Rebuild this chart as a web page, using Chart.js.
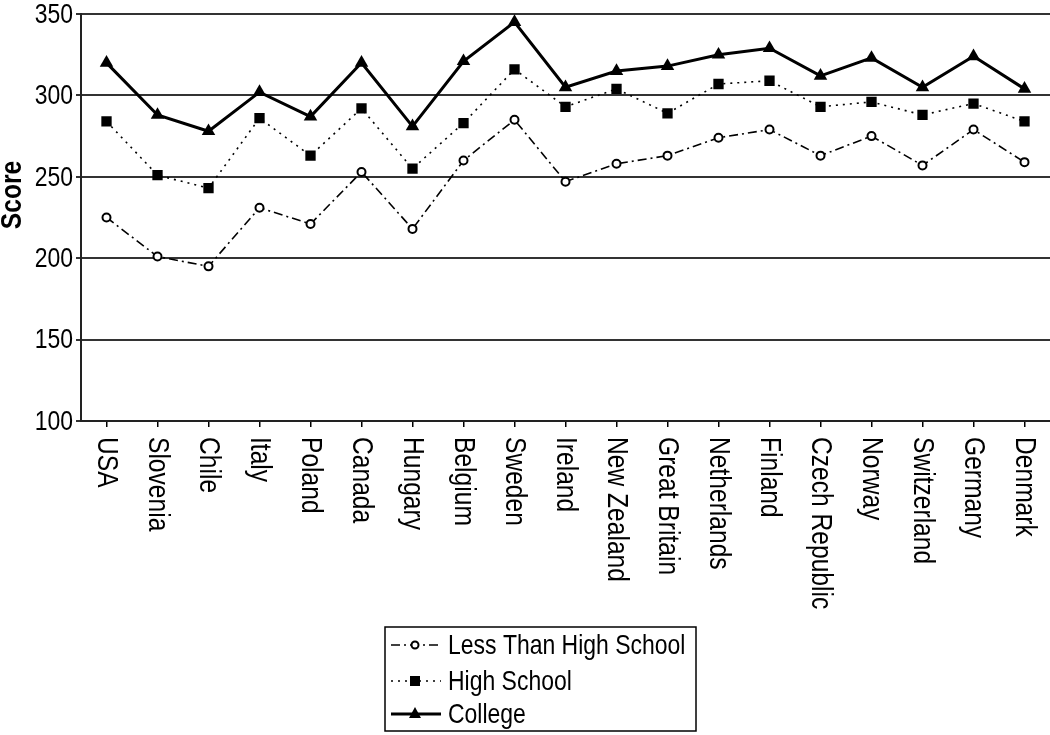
<!DOCTYPE html>
<html>
<head>
<meta charset="utf-8">
<script src="https://cdn.jsdelivr.net/npm/chart.js@4.4.0/dist/chart.umd.min.js"></script>
<style>
  html, body { margin: 0; padding: 0; overflow: hidden; background: #fff; }
  #wrap { width: 1050px; height: 735px; position: relative; }
  canvas { display: block; }
</style>
</head>
<body>
<div id="wrap"><canvas id="scoreChart"></canvas></div>
<script>
// countries along the x axis
var countries = ['USA', 'Slovenia', 'Chile', 'Italy', 'Poland', 'Canada', 'Hungary', 'Belgium', 'Sweden',
    'Ireland', 'New Zealand', 'Great Britain', 'Netherlands', 'Finland', 'Czech Republic', 'Norway',
    'Switzerland', 'Germany', 'Denmark'];

// scores
var lessThanHighSchool = [225, 201, 195, 231, 221, 253, 218, 260, 285, 247, 258, 263, 274, 279, 263, 275, 257, 279, 259];
var highSchool = [284, 251, 243, 286, 263, 292, 255, 283, 316, 293, 304, 289, 307, 309, 293, 296, 288, 295, 284];
var college = [320, 288, 278, 302, 287, 320, 281, 321, 345, 305, 315, 318, 325, 329, 312, 323, 305, 324, 304];

var yTicks = [100, 150, 200, 250, 300, 350];
var yTitle = 'Score';

var sans = '"Liberation Sans", Arial, sans-serif';
var squeeze = 0.82; // narrow look of the original font

// draw text squeezed along its own direction
function narrowText(ctx, text, x, y, angle, align) {
    ctx.save();
    ctx.translate(x, y);
    ctx.rotate(angle);
    ctx.scale(squeeze, 1);
    ctx.textAlign = align;
    ctx.fillText(text, 0, 0);
    ctx.restore();
}

var textPlugin = {
    id: 'axisText',
    afterDraw: function(chart) {
        var ctx = chart.ctx;
        var xs = chart.scales.x;
        var ys = chart.scales.y;
        ctx.save();
        ctx.fillStyle = '#000';
        ctx.textBaseline = 'middle';

        // rotated country names, reading top to bottom
        ctx.font = '30px ' + sans;
        countries.forEach(function(name, i) {
            narrowText(ctx, name, xs.getPixelForTick(i), xs.top + 16, Math.PI / 2, 'left');
        });

        // y tick labels
        ctx.font = '28px ' + sans;
        yTicks.forEach(function(v) {
            narrowText(ctx, String(v), ys.right - 8, ys.getPixelForValue(v) + 1, 0, 'right');
        });

        // y title
        ctx.font = 'bold 30px ' + sans;
        narrowText(ctx, yTitle, 13, 195, -Math.PI / 2, 'center');
        ctx.restore();
    }
};

// boxed legend, one row per series
var legendPlugin = {
    id: 'boxLegend',
    afterDraw: function(chart) {
        var ctx = chart.ctx;
        var left = 385, top = 627, w = 311, h = 104;
        ctx.save();
        ctx.strokeStyle = '#000';
        ctx.lineWidth = 1.5;
        ctx.strokeRect(left, top, w, h);
        ctx.font = '28px ' + sans;
        ctx.textBaseline = 'middle';
        var rows = [645, 681, 714];
        chart.data.datasets.forEach(function(ds, i) {
            var y = rows[i];
            ctx.save();
            ctx.strokeStyle = '#000';
            ctx.lineWidth = ds.borderWidth;
            ctx.setLineDash(ds.borderDash || []);
            ctx.beginPath();
            ctx.moveTo(391, y);
            ctx.lineTo(441, y);
            ctx.stroke();
            ctx.setLineDash([]);
            var cx = 415;
            if (ds.pointStyle === 'circle') {
                ctx.fillStyle = '#fff';
                ctx.lineWidth = 2;
                ctx.beginPath();
                ctx.arc(cx, y, 3.5, 0, Math.PI * 2);
                ctx.fill();
                ctx.stroke();
            } else if (ds.pointStyle === 'rect') {
                ctx.fillStyle = '#000';
                ctx.fillRect(cx - 5, y - 5, 10, 10);
            } else {
                ctx.fillStyle = '#000';
                ctx.beginPath();
                ctx.moveTo(cx, y - 7);
                ctx.lineTo(cx + 6, y + 4);
                ctx.lineTo(cx - 6, y + 4);
                ctx.closePath();
                ctx.fill();
            }
            ctx.restore();
            ctx.fillStyle = '#000';
            narrowText(ctx, ds.label, 448, y + 1, 0, 'left');
        });
        ctx.restore();
    }
};

var ctx = document.getElementById('scoreChart').getContext('2d');
var scoreChart = new Chart(ctx, {
    type: 'line',
    data: {
        labels: countries,
        datasets: [{
            label: 'Less Than High School',
            data: lessThanHighSchool,
            borderColor: '#000',
            borderWidth: 1.6,
            borderDash: [9, 4, 2, 4],
            pointStyle: 'circle',
            pointRadius: 4,
            pointBorderWidth: 2,
            pointBackgroundColor: '#fff',
            pointBorderColor: '#000'
        }, {
            label: 'High School',
            data: highSchool,
            borderColor: '#000',
            borderWidth: 1.6,
            borderDash: [2, 5],
            pointStyle: 'rect',
            pointRadius: 7.3,
            pointBorderWidth: 0,
            pointBackgroundColor: '#000',
            pointBorderColor: '#000'
        }, {
            label: 'College',
            data: college,
            borderColor: '#000',
            borderWidth: 3,
            pointStyle: 'triangle',
            pointRadius: 7.8,
            pointBorderWidth: 0,
            pointBackgroundColor: '#000',
            pointBorderColor: '#000'
        }]
    },
    options: {
        responsive: true,
        maintainAspectRatio: false,
        animation: false,
        layout: { padding: 0, autoPadding: false },
        elements: { line: { tension: 0 } },
        plugins: {
            legend: { display: false },
            tooltip: { enabled: false }
        },
        scales: {
            x: {
                offset: true,
                grid: { display: true, drawOnChartArea: false, offset: false, tickLength: 6, color: '#000', lineWidth: 1.5 },
                border: { color: '#222', width: 2 },
                ticks: { display: false },
                afterFit: function(scale) {
                    scale.height = 314;
                    scale.paddingLeft = 0;
                    scale.paddingRight = 0;
                }
            },
            y: {
                min: 100,
                max: 350,
                afterBuildTicks: function(scale) {
                    scale.ticks = yTicks.map(function(v) { return { value: v }; });
                },
                grid: { color: '#333', lineWidth: 2, tickLength: 5 },
                border: { color: '#222', width: 2 },
                ticks: { display: false },
                afterFit: function(scale) {
                    scale.width = 81;
                    scale.paddingTop = 14;
                    scale.paddingBottom = 0;
                }
            }
        }
    },
    plugins: [textPlugin, legendPlugin]
});
</script>
</body>
</html>
